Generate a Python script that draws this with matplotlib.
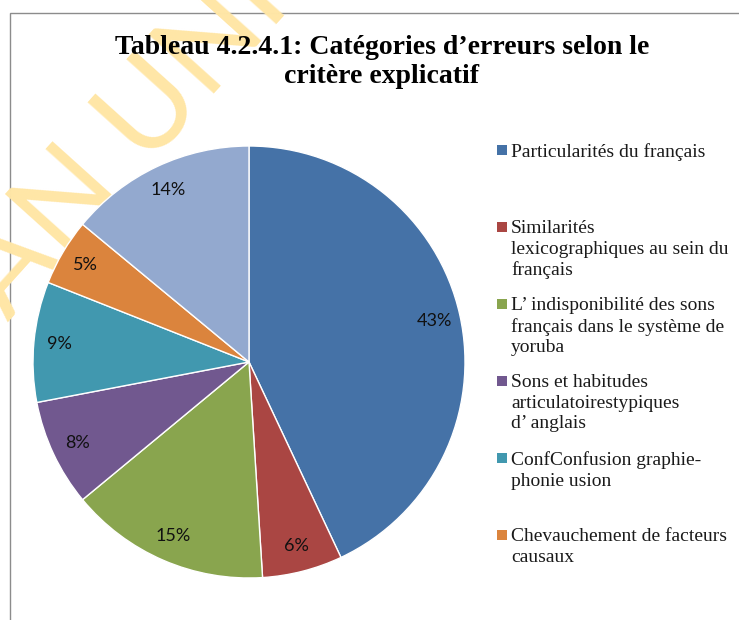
import matplotlib.pyplot as plt
from matplotlib.patches import Rectangle

# ── Données ──────────────────────────────────────────────────────────────────
valeurs = [43, 6, 15, 8, 9, 5, 14]
couleurs = ["#4572A7", "#AA4643", "#89A54E", "#71588F",
            "#4198AF", "#DB843D", "#93A9CF"]
legendes = [
    "Particularités du français",
    "Similarités\nlexicographiques au sein du\nfrançais",
    "L’ indisponibilité des sons\nfrançais dans le système de\nyoruba",
    "Sons et habitudes\narticulatoirestypiques\nd’ anglais",
    "ConfConfusion graphie-\nphonie usion",
    "Chevauchement de facteurs\ncausaux",
]
titre = "Tableau 4.2.4.1: Catégories d’erreurs selon le\ncritère explicatif"

W, H = 739, 620
fig = plt.figure(figsize=(W / 100, H / 100), dpi=100)
fig.patch.set_facecolor("white")


def fx(px):
    return px / W


def fy(py):
    return 1 - py / H


# cadre du graphique (coupé à droite et en bas)
fig.add_artist(Rectangle((fx(10), -0.1), 1.0, fy(13) + 0.1,
                         transform=fig.transFigure, fill=False,
                         edgecolor="#8c8c8c", linewidth=1.0, zorder=-2))

# filigrane
fig.text(fx(8), fy(322), "AN UNIV", fontsize=88, color="#FFE6A6",
         rotation=48, rotation_mode="anchor", ha="left", va="baseline",
         family="Lato", zorder=-1)

# ── Camembert ────────────────────────────────────────────────────────────────
cx, cy, r = 249, 362, 216
ax = fig.add_axes([fx(cx - r), fy(cy + r), 2 * r / W, 2 * r / H])
wedges, texts, autotexts = ax.pie(
    valeurs, colors=couleurs, startangle=90, counterclock=False,
    autopct="%1.0f%%", pctdistance=0.88,
    wedgeprops=dict(edgecolor="white", linewidth=1),
    textprops=dict(fontsize=13, family="Lato", color="#111111"),
)
ax.set_xlim(-1, 1)
ax.set_ylim(-1, 1)
ax.axis("off")

# ── Titre ────────────────────────────────────────────────────────────────────
fig.text(fx(382), fy(62), titre, ha="center", va="center", fontsize=20,
         fontweight="bold", family="Liberation Serif", linespacing=1.25,
         color="black")

# ── Légende ──────────────────────────────────────────────────────────────────
for i, lab in enumerate(legendes):
    yc = 150 + 77 * i
    fig.add_artist(Rectangle((fx(497), fy(yc + 5)), fx(10), 10 / H,
                             transform=fig.transFigure,
                             facecolor=couleurs[i], edgecolor="none"))
    fig.text(fx(511), fy(yc - 7), lab, ha="left", va="top",
             fontsize=14, family="Liberation Serif", linespacing=1.28,
             color="#1a1a1a")

fig.savefig("out.png", dpi=100)
